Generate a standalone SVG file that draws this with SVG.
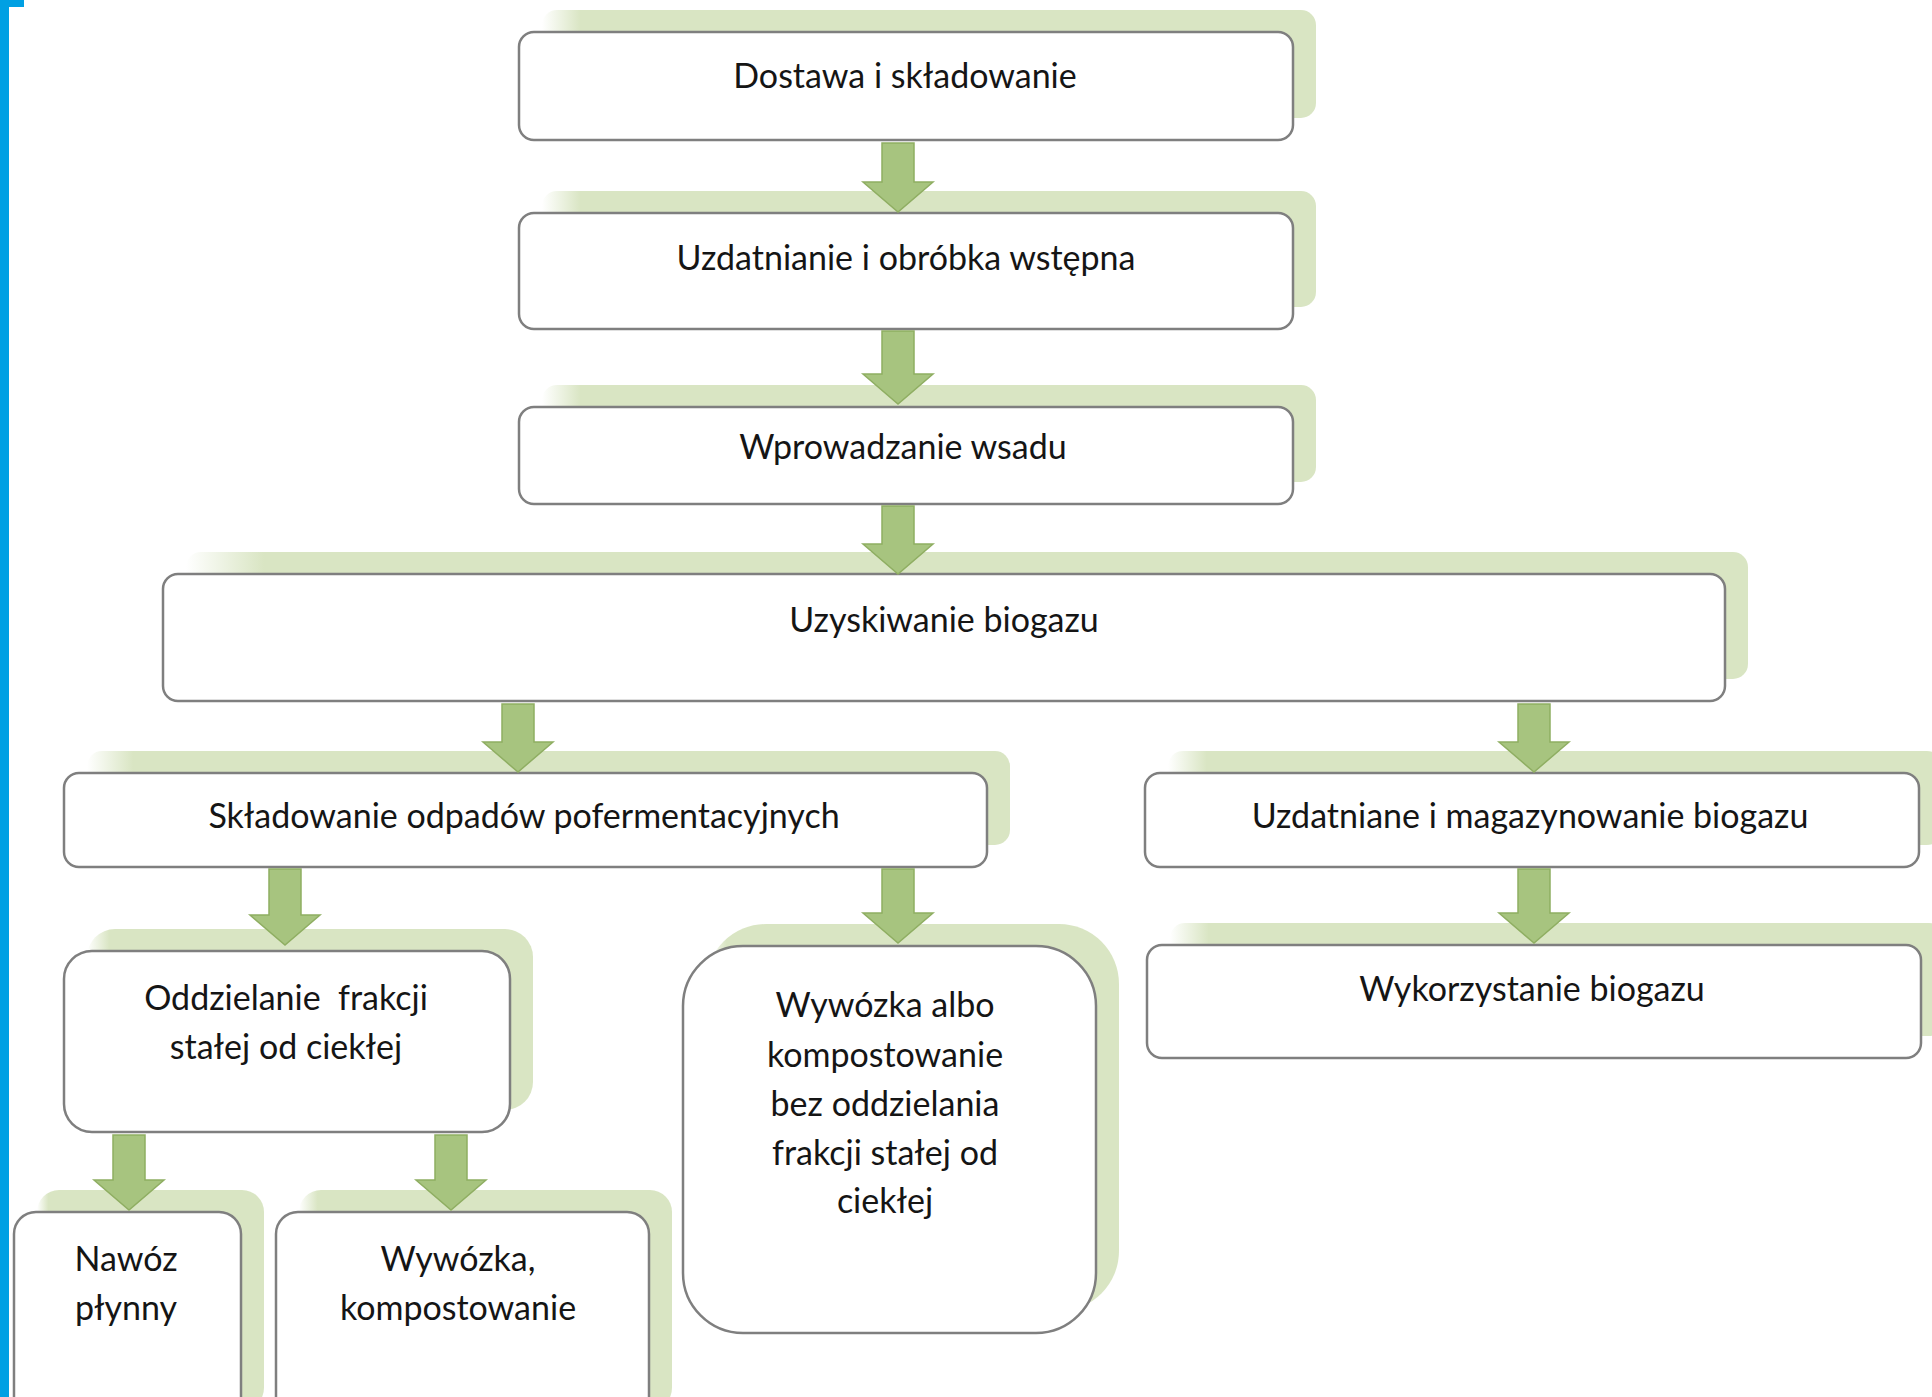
<svg xmlns="http://www.w3.org/2000/svg" width="1932" height="1397" viewBox="0 0 1932 1397">
<defs>
<linearGradient id="sh" x1="0" y1="0" x2="1" y2="0">
<stop offset="0" stop-color="#d9e5c3" stop-opacity="0"/>
<stop offset="0.05" stop-color="#d9e5c3" stop-opacity="1"/>
<stop offset="1" stop-color="#d9e5c3" stop-opacity="1"/>
</linearGradient>
<style>
.sh{fill:url(#sh);}
.bx{fill:#ffffff;stroke:#7f7f7f;stroke-width:2.5;}
.ar{fill:#a7c47f;stroke:#8fae62;stroke-width:1.5;}
text{font-family:Lato,"Liberation Sans",sans-serif;font-size:34px;fill:#151515;text-anchor:middle;}
</style>
</defs>
<rect x="0" y="0" width="1932" height="1397" fill="#ffffff"/>
<g id="frame">
<rect x="0" y="0" width="9" height="1397" fill="#00a0e3"/>
<rect x="0" y="0" width="24" height="7" fill="#00a0e3"/>
</g>
<g id="n1">
<rect class="sh" x="542" y="10" width="774" height="108" rx="15"/>
<rect class="bx" x="519" y="32" width="774" height="108" rx="15"/>
<text x="905" y="88">Dostawa i składowanie</text>
</g>
<g id="n2">
<rect class="sh" x="542" y="191" width="774" height="116" rx="15"/>
<rect class="bx" x="519" y="213" width="774" height="116" rx="15"/>
<text x="906" y="270">Uzdatnianie i obróbka wstępna</text>
</g>
<g id="n3">
<rect class="sh" x="542" y="385" width="774" height="97" rx="15"/>
<rect class="bx" x="519" y="407" width="774" height="97" rx="15"/>
<text x="903" y="459">Wprowadzanie wsadu</text>
</g>
<g id="n4">
<rect class="sh" x="186" y="552" width="1562" height="127" rx="15"/>
<rect class="bx" x="163" y="574" width="1562" height="127" rx="15"/>
<text x="944" y="632">Uzyskiwanie biogazu</text>
</g>
<g id="n5">
<rect class="sh" x="87" y="751" width="923" height="94" rx="15"/>
<rect class="bx" x="64" y="773" width="923" height="94" rx="15"/>
<text x="524" y="828">Składowanie odpadów pofermentacyjnych</text>
</g>
<g id="n6">
<rect class="sh" x="1168" y="751" width="774" height="94" rx="15"/>
<rect class="bx" x="1145" y="773" width="774" height="94" rx="15"/>
<text x="1530" y="828">Uzdatniane i magazynowanie biogazu</text>
</g>
<g id="n7">
<rect class="sh" x="87" y="929" width="446" height="181" rx="28"/>
<rect class="bx" x="64" y="951" width="446" height="181" rx="28"/>
<text x="286" y="1010">Oddzielanie&#160; frakcji</text>
<text x="286" y="1059">stałej od ciekłej</text>
</g>
<g id="n8">
<rect class="sh" x="706" y="924" width="413" height="387" rx="60"/>
<rect class="bx" x="683" y="946" width="413" height="387" rx="60"/>
<text x="885" y="1017">Wywózka albo</text>
<text x="885" y="1067">kompostowanie</text>
<text x="885" y="1116">bez oddzielania</text>
<text x="885" y="1165">frakcji stałej od</text>
<text x="885" y="1213">ciekłej</text>
</g>
<g id="n9">
<rect class="sh" x="1170" y="923" width="774" height="113" rx="15"/>
<rect class="bx" x="1147" y="945" width="774" height="113" rx="15"/>
<text x="1532" y="1001">Wykorzystanie biogazu</text>
</g>
<g id="n10">
<rect class="sh" x="37" y="1190" width="227" height="220" rx="22"/>
<rect class="bx" x="14" y="1212" width="227" height="220" rx="22"/>
<text x="126" y="1271">Nawóz</text>
<text x="126" y="1320">płynny</text>
</g>
<g id="n11">
<rect class="sh" x="299" y="1190" width="373" height="220" rx="22"/>
<rect class="bx" x="276" y="1212" width="373" height="220" rx="22"/>
<text x="458" y="1271">Wywózka,</text>
<text x="458" y="1320">kompostowanie</text>
</g>
<g id="connectors">
<path class="ar" d="M882,143 H914 V182 H933 L898,212 L863,182 H882 Z"/>
<path class="ar" d="M882,331 H914 V374 H933 L898,404 L863,374 H882 Z"/>
<path class="ar" d="M882,506 H914 V544 H933 L898,574 L863,544 H882 Z"/>
<path class="ar" d="M502,704 H534 V742 H553 L518,772 L483,742 H502 Z"/>
<path class="ar" d="M1518,704 H1550 V742 H1569 L1534,772 L1499,742 H1518 Z"/>
<path class="ar" d="M269,869 H301 V915 H320 L285,945 L250,915 H269 Z"/>
<path class="ar" d="M882,869 H914 V913 H933 L898,943 L863,913 H882 Z"/>
<path class="ar" d="M1518,869 H1550 V913 H1569 L1534,943 L1499,913 H1518 Z"/>
<path class="ar" d="M113,1135 H145 V1180 H164 L129,1210 L94,1180 H113 Z"/>
<path class="ar" d="M435,1135 H467 V1180 H486 L451,1210 L416,1180 H435 Z"/>
</g>
</svg>
